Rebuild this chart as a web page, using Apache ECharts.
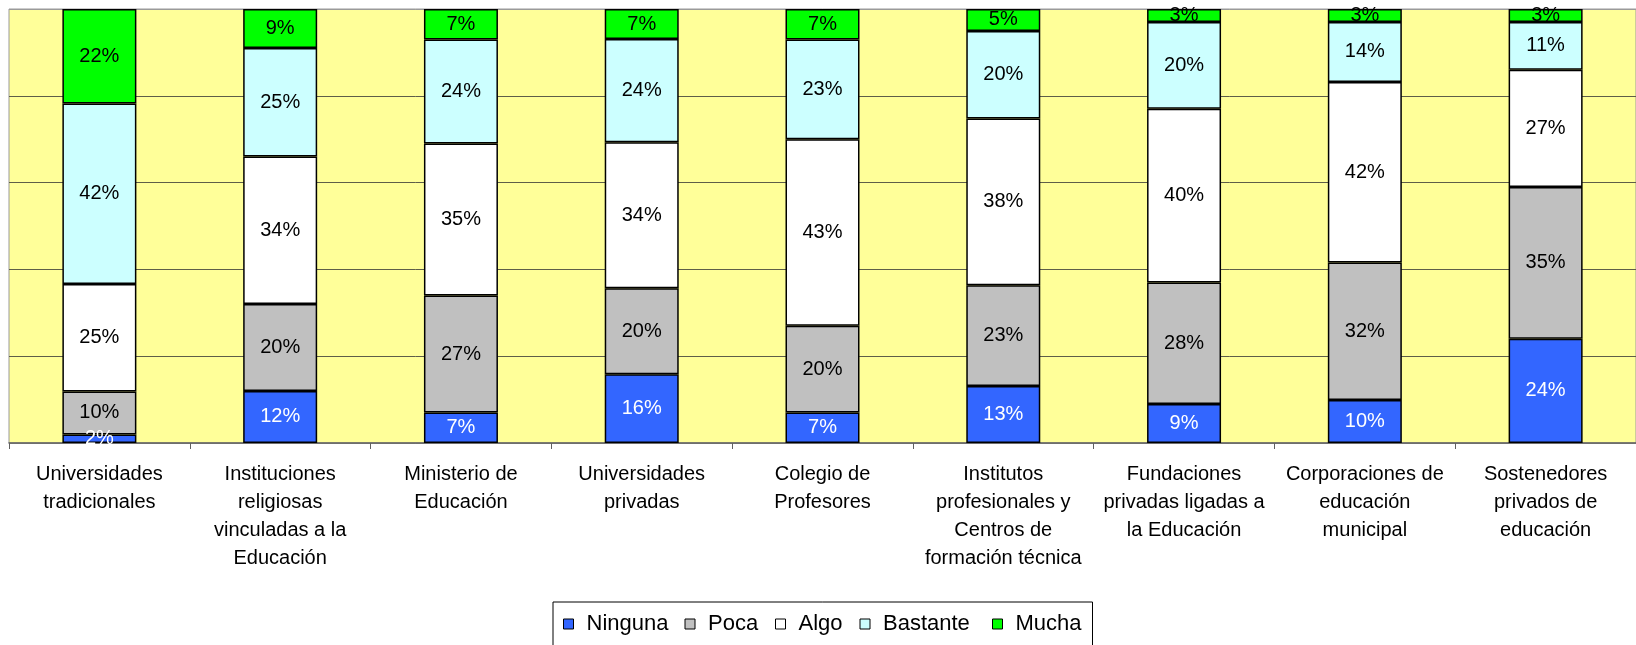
<!DOCTYPE html>
<html>
<head>
<meta charset="utf-8">
<script src="https://cdn.jsdelivr.net/npm/echarts@6/dist/echarts.min.js"></script>
<style>
  html, body { margin: 0; padding: 0; background: #ffffff; }
  #chart { width: 1636px; height: 645px; }
</style>
</head>
<body>
<div id="chart"></div>
<script>
// Institutions (line breaks as shown under each bar)
const categories = [
  'Universidades\ntradicionales',
  'Instituciones\nreligiosas\nvinculadas a la\nEducación',
  'Ministerio de\nEducación',
  'Universidades\nprivadas',
  'Colegio de\nProfesores',
  'Institutos\nprofesionales y\nCentros de\nformación técnica',
  'Fundaciones\nprivadas ligadas a\nla Educación',
  'Corporaciones de\neducación\nmunicipal',
  'Sostenedores\nprivados de\neducación'
];

// Percentage of answers per level
const ninguna  = [2, 12, 7, 16, 7, 13, 9, 10, 24];
const poca     = [10, 20, 27, 20, 20, 23, 28, 32, 35];
const algo     = [25, 34, 35, 34, 43, 38, 40, 42, 27];
const bastante = [42, 25, 24, 24, 23, 20, 20, 14, 11];
const mucha    = [22, 9, 7, 7, 7, 5, 3, 3, 3];

const seriesNames = ['Ninguna', 'Poca', 'Algo', 'Bastante', 'Mucha'];
const seriesValues = [ninguna, poca, algo, bastante, mucha];
const seriesColors = ['#3366FF', '#C0C0C0', '#FFFFFF', '#CCFFFF', '#00FF00'];
const labelColors = ['#FFFFFF', '#000000', '#000000', '#000000', '#000000'];
// room reserved for each legend entry's text
const legendTextWidths = [98, 67, 61, 109, 67];

// 100% stacked: each column is scaled to its own total
const totals = categories.map((_, i) =>
  seriesValues.reduce((s, arr) => s + arr[i], 0));

const FONT = '"Liberation Sans", Arial, sans-serif';

const series = seriesNames.map((name, k) => ({
  name: name,
  type: 'bar',
  stack: 'total',
  barWidth: 74,
  clip: false,
  itemStyle: { color: seriesColors[k], borderColor: '#000000', borderWidth: 1.5 },
  label: {
    show: true,
    position: 'inside',
    color: labelColors[k],
    fontFamily: FONT,
    fontSize: 20,
    formatter: p => seriesValues[k][p.dataIndex] + '%'
  },
  emphasis: { disabled: true },
  data: seriesValues[k].map((v, i) => ({ value: v / totals[i] * 100 }))
}));

const chart = echarts.init(document.getElementById('chart'), null, { renderer: 'canvas' });
chart.setOption({
  animation: false,
  backgroundColor: '#FFFFFF',
  grid: {
    left: 9, right: -1, top: 9, bottom: 202,
    show: true,
    backgroundColor: '#FFFF99',
    borderColor: '#9A9A9A',
    borderWidth: 1
  },
  xAxis: {
    type: 'category',
    data: categories,
    axisLine: { show: true, lineStyle: { color: '#606060', width: 1.5 } },
    axisTick: { show: true, length: 6, lineStyle: { color: '#606060' } },
    axisLabel: {
      interval: 0,
      margin: 17,
      color: '#000000',
      fontFamily: FONT,
      fontSize: 20,
      lineHeight: 28
    }
  },
  yAxis: {
    type: 'value',
    min: 0, max: 100, interval: 20,
    axisLabel: { show: false },
    axisTick: { show: false },
    axisLine: { show: false },
    splitLine: {
      show: true,
      lineStyle: { color: ['#9A9A9A', '#5E5E48', '#5E5E48', '#5E5E48', '#5E5E48', '#9A9A9A'], width: 1 }
    }
  },
  legend: {
    data: seriesNames.map((name, k) => ({
      name: name,
      textStyle: { width: legendTextWidths[k] }
    })),
    left: 553,
    top: 602,
    orient: 'horizontal',
    icon: 'rect',
    itemWidth: 10,
    itemHeight: 10,
    itemGap: 0,
    padding: [10, 10, 14, 10],
    borderColor: '#000000',
    borderWidth: 1,
    backgroundColor: '#FFFFFF',
    itemStyle: { borderColor: '#000000', borderWidth: 1 },
    textStyle: { fontFamily: FONT, fontSize: 22, color: '#000000', lineHeight: 24, padding: [0, 0, 0, 8] },
    selectedMode: false
  },
  series: series
});
</script>
</body>
</html>
